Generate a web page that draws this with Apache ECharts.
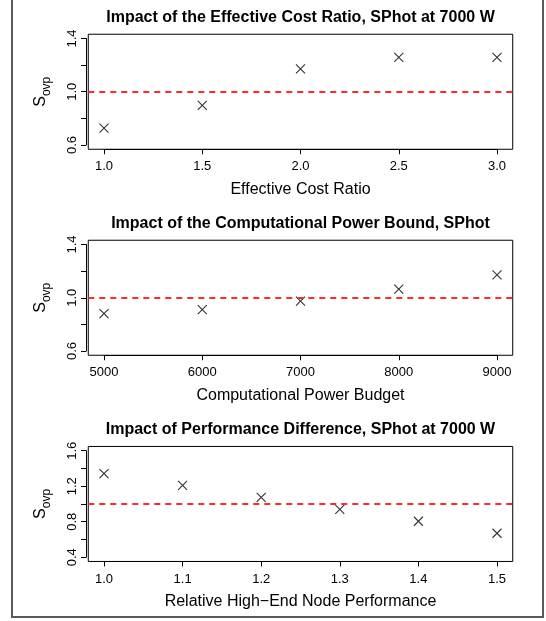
<!DOCTYPE html>
<html>
<head>
<meta charset="utf-8">
<script src="https://cdn.jsdelivr.net/npm/echarts@6/dist/echarts.min.js"></script>
<style>
  html, body { margin: 0; padding: 0; background: #fff; }
  #main { width: 546px; height: 621px; }
</style>
</head>
<body>
<div id="main"></div>
<script>
// panel 1: effective cost ratio
var costRatio = [1.0, 1.5, 2.0, 2.5, 3.0];
var costSovp  = [0.726, 0.897, 1.171, 1.259, 1.259];
// panel 2: computational power budget
var powerBudget = [5000, 6000, 7000, 8000, 9000];
var powerSovp   = [0.880, 0.910, 0.975, 1.065, 1.172];
// panel 3: relative high-end node performance
var perfRatio = [1.0, 1.1, 1.2, 1.3, 1.4, 1.5];
var perfSovp  = [1.341, 1.210, 1.075, 0.940, 0.805, 0.670];

var titles = [
  'Impact of the Effective Cost Ratio, SPhot at 7000 W',
  'Impact of the Computational Power Bound, SPhot',
  'Impact of Performance Difference, SPhot at 7000 W'
];
var xNames = ['Effective Cost Ratio', 'Computational Power Budget', 'Relative High\u2212End Node Performance'];
var xTicks = [[1, 3, 0.5], [5000, 9000, 1000], [1.0, 1.5, 0.1]];
var yTicks = [[0.6, 1.4, 0.2], [0.6, 1.4, 0.2], [0.4, 1.6, 0.2]];
var refLine = 1.0;

var chart = echarts.init(document.getElementById('main'));
var font = 'Liberation Sans, Arial, Helvetica, sans-serif';

// tick span of each panel (pixels), the box is 4% wider each side like R
var axL = 104, axR = 497, axH = 106.5;
var axTops = [38.5, 244.5, 450.7];
var padX = 0.04 * (axR - axL), padY = 0.04 * axH;

var grids = [], xAxes = [], yAxes = [], series = [], titleOpts = [];
var datasets = [[costRatio, costSovp], [powerBudget, powerSovp], [perfRatio, perfSovp]];
var fmtX = [function (v) { return v.toFixed(1); }, function (v) { return String(v); }, function (v) { return v.toFixed(1); }];

for (var i = 0; i < 3; i++) {
  var t = axTops[i];
  // grid 2i: box + data, grid 2i+1: ticks and labels
  grids.push({ left: axL - padX, width: (axR - axL) + 2 * padX, top: t - padY, height: axH + 2 * padY,
               show: true, borderColor: '#000', borderWidth: 1, backgroundColor: 'transparent' });
  grids.push({ left: axL, width: axR - axL, top: t, height: axH, show: false });

  var xs = xTicks[i], ys = yTicks[i];
  var xPad = 0.04 * (xs[1] - xs[0]), yPad = 0.04 * (ys[1] - ys[0]);
  xAxes.push({ gridIndex: 2 * i, type: 'value', min: xs[0] - xPad, max: xs[1] + xPad, show: false });
  yAxes.push({ gridIndex: 2 * i, type: 'value', min: ys[0] - yPad, max: ys[1] + yPad, show: false });

  xAxes.push({
    gridIndex: 2 * i + 1, type: 'value', min: xs[0], max: xs[1], interval: xs[2], offset: padY,
    name: xNames[i], nameLocation: 'middle', nameGap: 32,
    nameTextStyle: { fontFamily: font, fontSize: 16, color: '#000' },
    axisLine: { show: true, lineStyle: { color: '#000', width: 1 } },
    axisTick: { show: true, inside: false, length: 5, lineStyle: { color: '#000' } },
    axisLabel: { fontFamily: font, fontSize: 13, color: '#000', margin: 11, formatter: fmtX[i] },
    splitLine: { show: false }
  });
  yAxes.push({
    gridIndex: 2 * i + 1, type: 'value', min: ys[0], max: ys[1], interval: ys[2], offset: 18,
    name: '{a|S}{b|ovp}', nameLocation: 'middle', nameGap: 33,
    nameTextStyle: {
      fontFamily: font, color: '#000',
      rich: {
        a: { fontFamily: font, fontSize: 16, lineHeight: 20, verticalAlign: 'top', color: '#000' },
        b: { fontFamily: font, fontSize: 12, lineHeight: 20, verticalAlign: 'bottom', color: '#000' }
      }
    },
    axisLine: { show: true, lineStyle: { color: '#000', width: 1 } },
    axisTick: { show: true, inside: false, length: 5, lineStyle: { color: '#000' } },
    axisLabel: {
      fontFamily: font, fontSize: 13, color: '#000', margin: 7, rotate: 90,
      formatter: function (v, idx) { return idx % 2 === 0 ? v.toFixed(1) : ''; }
    },
    splitLine: { show: false }
  });

  var pts = datasets[i][0].map(function (x, k) { return [x, datasets[i][1][k]]; });
  series.push({
    type: 'scatter', xAxisIndex: 2 * i, yAxisIndex: 2 * i, data: pts,
    symbol: 'path://M0,0L10,10M10,0L0,10', symbolSize: 9,
    itemStyle: { color: 'none', borderColor: '#000', borderWidth: 1.1 },
    emphasis: { disabled: true },
    markLine: {
      silent: true, symbol: 'none', label: { show: false },
      lineStyle: { color: '#ff2a2a', width: 2, type: [6, 5] },
      data: [{ yAxis: refLine }]
    }
  });

  titleOpts.push({
    text: titles[i], left: (axL + axR) / 2, textAlign: 'center', top: t - 29, padding: 0,
    textStyle: { fontFamily: font, fontSize: 16, fontWeight: 'bold', color: '#000' }
  });
}

chart.setOption({
  animation: false,
  backgroundColor: '#fff',
  title: titleOpts,
  grid: grids,
  xAxis: xAxes,
  yAxis: yAxes,
  series: series,
  graphic: [{
    type: 'rect', silent: true,
    shape: { x: 12, y: -5, width: 531, height: 622 },
    style: { fill: 'none', stroke: '#5a5a5a', lineWidth: 2 }
  }]
});
</script>
</body>
</html>
